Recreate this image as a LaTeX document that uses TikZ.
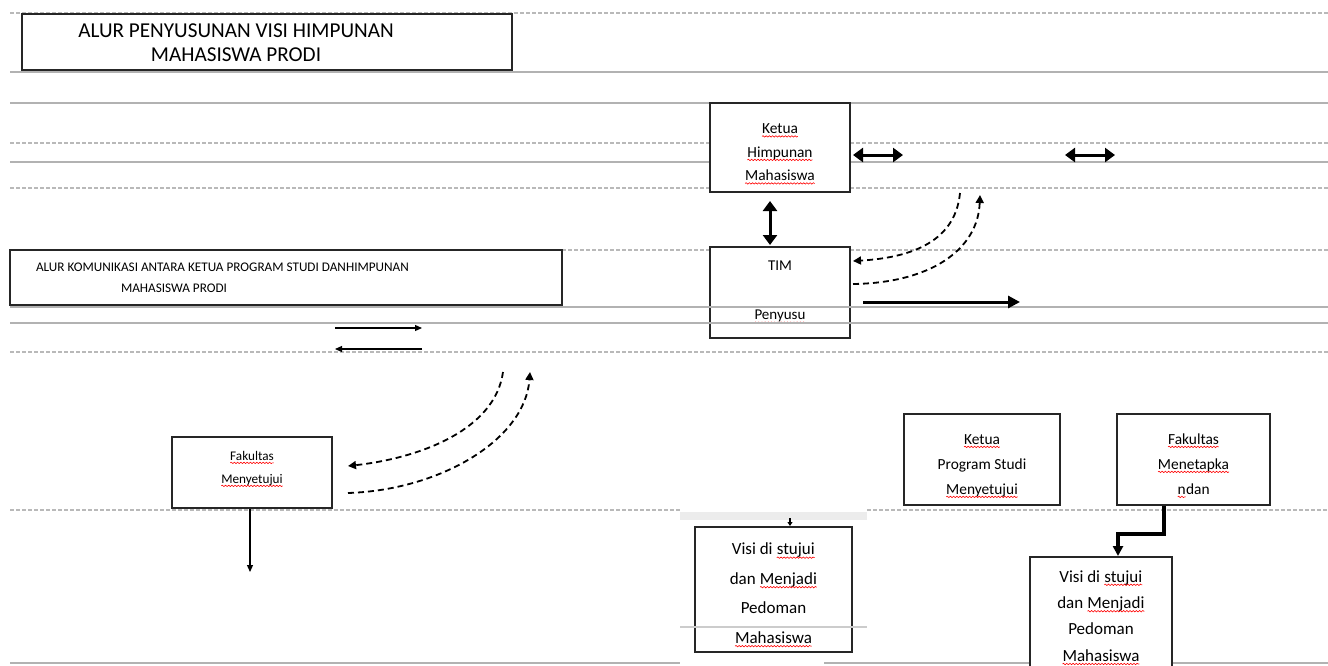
\documentclass[tikz,border=0pt]{standalone}
\usepackage{fontspec}
\setmainfont{Carlito}
\usetikzlibrary{arrows.meta, decorations.pathmorphing}

\newcommand{\salah}[1]{\tikz[baseline=(s.base)]{\node[inner sep=0pt, outer sep=0pt, minimum width=0pt,
    minimum height=0pt, draw=none, fill=none, align=none, anchor=center] (s) {#1};
  \draw[red, line width=0.3pt, decorate, decoration={snake, amplitude=0.35pt, segment length=1.6pt}]
    ([yshift=-1.4pt]s.base west) -- ([yshift=-1.4pt]s.base east);}}
\newcommand{\atas}{\rule{0pt}{11.5pt}}

\begin{document}
\begin{tikzpicture}[x=0.5pt, y=-0.5pt,
    kotak/.style={draw=black!85, line width=1pt, fill=white, align=center, inner sep=0pt},
    garis/.style={gray!60, line width=0.7pt},
    garisputus/.style={gray!55, line width=0.7pt, dash pattern=on 2pt off 1pt},
    panahtebal/.style={line width=1.5pt, -{Triangle[length=6pt,width=6pt]}},
    panahdua/.style={line width=1.5pt, {Triangle[length=5pt,width=7pt]}-{Triangle[length=5pt,width=7pt]}},
    panahtipis/.style={line width=0.6pt, -{Triangle[length=3.5pt,width=3pt]}},
    panahputus/.style={line width=0.9pt, dash pattern=on 3pt off 2pt, -{Triangle[length=4pt,width=4pt]}}]
  \useasboundingbox (0,0) rectangle (1328,665);

  % garis latar
  \draw[garisputus] (10,13) -- (1328,13);
  \draw[garis, line width=1pt] (10,72) -- (1328,72);
  \draw[garis] (10,103) -- (1328,103);
  \draw[garisputus] (10,143) -- (1328,143);
  \draw[garis] (10,162) -- (1328,162);
  \draw[garisputus] (10,188) -- (1328,188);
  \draw[garisputus] (562,250) -- (1328,250);
  \draw[garisputus] (10,352) -- (1328,352);
  \draw[garisputus] (10,510) -- (680,510);
  \draw[garisputus] (867,510) -- (1328,510);
  \draw[garis, line width=1pt] (10,663) -- (680,663);
  \draw[garis, line width=1pt] (824,663) -- (1328,663);
  \fill[gray!15] (680,512) rectangle (867,520);

  % judul
  \node[kotak, minimum width=245pt, minimum height=28pt] (judulkotak) at (267,42) {};
  \node[align=center, font=\fontsize{10.6}{12}\selectfont] (judul) at (236,43)
    {ALUR PENYUSUNAN VISI HIMPUNAN\\MAHASISWA PRODI};
  \node[kotak, minimum width=276pt, minimum height=27.5pt] (komkotak) at (286,277.5) {};
  \node[anchor=west, align=left, font=\fontsize{6.6}{10.5}\selectfont] (komunikasi) at (29,278)
    {ALUR KOMUNIKASI ANTARA KETUA PROGRAM STUDI DANHIMPUNAN\\\hspace*{42.5pt}MAHASISWA PRODI};

  % kotak alur
  \node[kotak, minimum width=70pt, minimum height=44.5pt, font=\fontsize{7.7}{11.75}\selectfont] (ketuahm) at (780,147.5)
    {\atas\salah{Ketua}\\\salah{Himpunan}\\\salah{Mahasiswa}};
  \node[kotak, minimum width=70pt, minimum height=45.5pt, font=\fontsize{7.5}{12.25}\selectfont] (tim) at (780,292.5)
    {TIM\\\mbox{}\\\salah{Penyusu}};
  \node[kotak, minimum width=80pt, minimum height=35.5pt, font=\fontsize{6.6}{11.5}\selectfont] (fakultas) at (252,472.5)
    {\salah{Fakultas}\\\salah{Menyetujui}\rule[-5.5pt]{0pt}{0pt}};
  \node[kotak, minimum width=78pt, minimum height=45.5pt, font=\fontsize{7.7}{12.5}\selectfont] (prodi) at (982,459.5)
    {\atas\salah{Ketua}\\Program Studi\\\salah{Menyetujui}};
  \node[kotak, minimum width=76.5pt, minimum height=45.5pt, font=\fontsize{7.7}{12.5}\selectfont] (menetap) at (1193.5,459.5)
    {\atas\salah{Fakultas}\\\salah{Menetapka}\\\salah{n}dan};
  \node[kotak, minimum width=78.5pt, minimum height=62.5pt, font=\fontsize{8.5}{14.75}\selectfont] (visi1) at (773.5,589.5)
    {\atas Visi di \salah{stujui}\\dan \salah{Menjadi}\\Pedoman\\\salah{Mahasiswa}};
  \node[kotak, minimum width=71pt, minimum height=59pt, font=\fontsize{8.5}{13.2}\selectfont] (visi2) at (1101,616)
    {\rule{0pt}{7.5pt}Visi di \salah{stujui}\\dan \salah{Menjadi}\\Pedoman\\\salah{Mahasiswa}};

  % garis yang melintas kotak
  \draw[garis] (10,307) -- (1328,307);
  \draw[garis] (10,323) -- (1328,323);
  \draw[gray!40, line width=0.8pt] (680,627) -- (867,627);

  % ujung bebas
  \coordinate (hmkanan) at (903,155);
  \coordinate (pA) at (1065,155);
  \coordinate (pB) at (1115,155);
  \coordinate (lengkungA) at (960,193);
  \coordinate (lengkungB) at (980,195);
  \coordinate (timkanan) at (1020,302);
  \coordinate (kiriA) at (335,328);
  \coordinate (kananA) at (422,328);
  \coordinate (kananB) at (422,349);
  \coordinate (kiriB) at (335,349);
  \coordinate (lengkungC) at (503,372);
  \coordinate (lengkungD) at (530,372);
  \coordinate (fakbawah) at (250,572);
  \coordinate (visiatas) at (790,518);

  % panah
  \draw[panahdua, shorten <=1pt] ([yshift=-3.75pt]ketuahm.east) -- (hmkanan);
  \draw[panahdua] (pA) -- (pB);
  \draw[panahdua, shorten <=4pt, shorten >=0.5pt] ([xshift=-5pt]ketuahm.south) -- ([xshift=-5pt]tim.north);
  \draw[panahputus] (lengkungA) .. controls (955,245) and (905,258) .. ([xshift=1pt,yshift=-7.5pt]tim.north east);
  \draw[panahputus] ([xshift=1pt,yshift=-19pt]tim.north east) .. controls (930,283) and (978,250) .. (lengkungB);
  \draw[panahtebal] ([xshift=6pt,yshift=-4.75pt]tim.east) -- (timkanan);
  \draw[panahtipis] (kiriA) -- (kananA);
  \draw[panahtipis] (kananB) -- (kiriB);
  \draw[panahputus] (lengkungC) .. controls (495,430) and (420,458) .. ([xshift=7.5pt,yshift=3.25pt]fakultas.east);
  \draw[panahputus] ([xshift=7.5pt,yshift=-10.25pt]fakultas.east) .. controls (440,490) and (525,440) .. (lengkungD);
  \draw[panahtipis] ([xshift=-1pt]fakultas.south) -- (fakbawah);
  \draw[line width=1.6pt, -{Triangle[length=5pt,width=5pt]}] ([xshift=-14.75pt]menetap.south) -- ++(0,28) -| ([xshift=8.5pt]visi2.north);
  \draw[line width=0.6pt, -{Triangle[length=2pt,width=2.5pt]}] (visiatas) -- ([xshift=8.25pt]visi1.north);
\end{tikzpicture}
\end{document}
